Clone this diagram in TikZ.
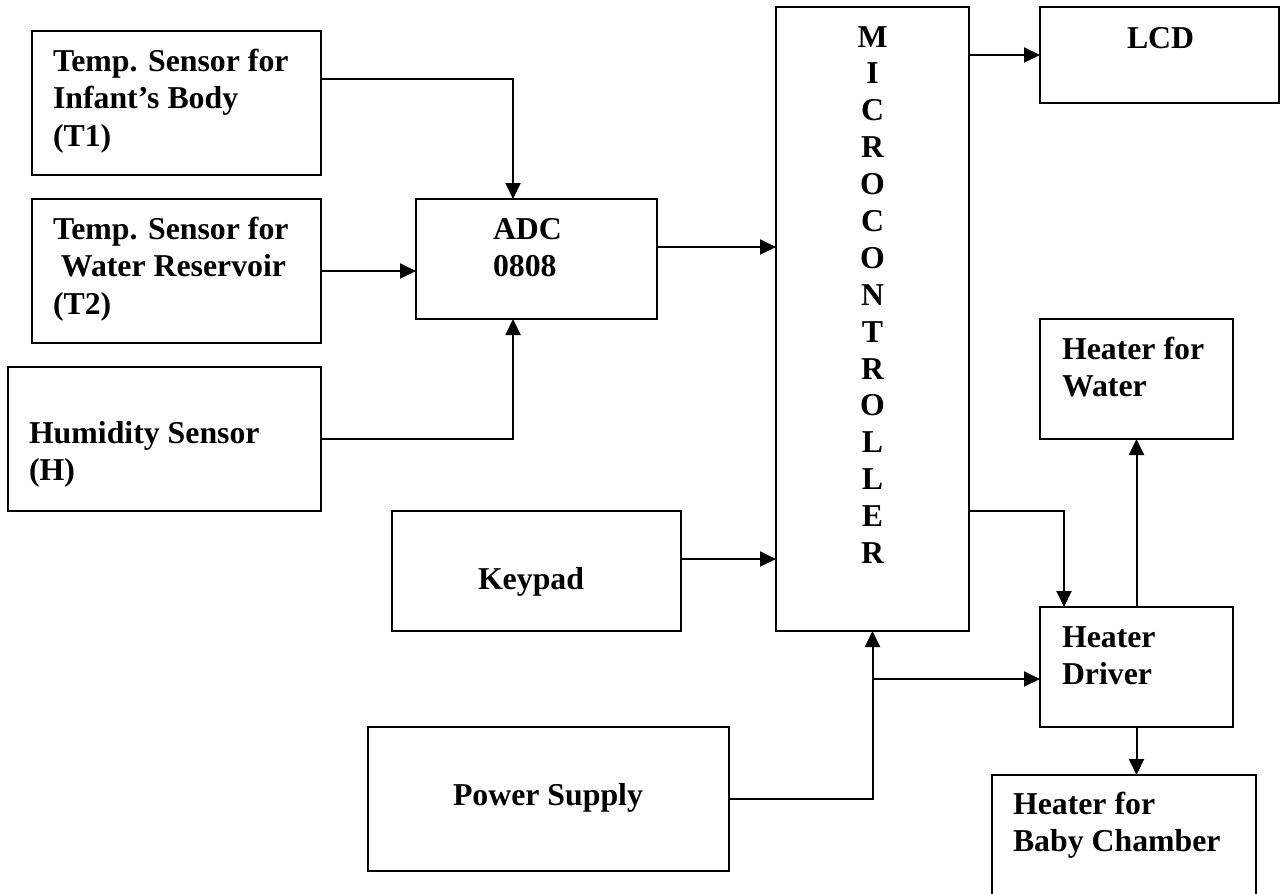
\documentclass[tikz,border=0pt]{standalone}
\usepackage{fontspec}
\setmainfont{Liberation Serif}
\usetikzlibrary{arrows.meta,calc}
\tikzset{
  blk/.style={draw, line width=2.1pt, inner sep=0pt, outer sep=0pt, anchor=north west},
  lbl/.style={anchor=base west, inner sep=0pt, outer sep=0pt, font=\bfseries\fontsize{31.8}{37.7}\selectfont},
  conn/.style={line width=2pt, -{Triangle[length=16pt,width=15pt]}},
}
\begin{document}
\begin{tikzpicture}[x=1pt,y=-1pt]
\useasboundingbox (0,0) rectangle (1283,894);
\clip (0,0) rectangle (1283,894);
% blocks
\node[blk, minimum width=289pt, minimum height=144pt] (T1) at (32,31) {};
\node[blk, minimum width=289pt, minimum height=144pt] (T2) at (32,199) {};
\node[blk, minimum width=313pt, minimum height=144pt] (Hum) at (8,367) {};
\node[blk, minimum width=241pt, minimum height=120pt] (ADC) at (416,199) {};
\node[blk, minimum width=289pt, minimum height=120pt] (Keypad) at (392,511) {};
\node[blk, minimum width=361pt, minimum height=144pt] (PS) at (368,727) {};
\node[blk, minimum width=193pt, minimum height=624pt] (Micro) at (776,7) {};
\node[blk, minimum width=239pt, minimum height=96pt] (LCD) at (1040,7) {};
\node[blk, minimum width=193pt, minimum height=120pt] (HW) at (1040,319) {};
\node[blk, minimum width=193pt, minimum height=120pt] (Driver) at (1040,607) {};
\node[blk, minimum width=264pt, minimum height=140pt] (Baby) at (992,775) {};
% texts
\node[lbl] (t1txt) at (53,71) {\begin{tabular}[t]{@{}l@{}}Temp. Sensor for\\Infant’s Body\\(T1)\end{tabular}};
\node[lbl] (t2txt) at (53,239) {\begin{tabular}[t]{@{}l@{}}Temp. Sensor for\\\ Water Reservoir\\(T2)\end{tabular}};
\node[lbl] (humtxt) at (29,443) {\begin{tabular}[t]{@{}l@{}}Humidity Sensor\\(H)\end{tabular}};
\node[lbl] (adctxt) at (493,239) {\begin{tabular}[t]{@{}l@{}}ADC\\0808\end{tabular}};
\node[lbl] (kptxt) at (478,589) {Keypad};
\node[lbl] (pstxt) at (453,805) {Power Supply};
\node[lbl] (lcdtxt) at (1127,48) {LCD};
\node[lbl] (hwtxt) at (1062,359) {\begin{tabular}[t]{@{}l@{}}Heater for\\Water\end{tabular}};
\node[lbl] (drvtxt) at (1062,647) {\begin{tabular}[t]{@{}l@{}}Heater\\Driver\end{tabular}};
\node[lbl] (babytxt) at (1013,814) {\begin{tabular}[t]{@{}l@{}}Heater for\\Baby Chamber\end{tabular}};
\node[lbl, anchor=base] (mtxt) at (872.5,47) {\fontsize{31.8}{36.9}\selectfont\begin{tabular}[t]{@{}c@{}}M\\I\\C\\R\\O\\C\\O\\N\\T\\R\\O\\L\\L\\E\\R\end{tabular}};
% connectors
\draw[conn] ($(T1.north east)+(0,48)$) -| ($(ADC.north west)+(97,0)$);
\draw[conn] (T2.east) -- (T2.east -| ADC.west);
\draw[conn] (Hum.east) -| ($(ADC.south west)+(97,0)$);
\coordinate (adcout) at ($(ADC.east)+(0,-12)$);
\draw[conn] (adcout) -- (adcout -| Micro.west);
\draw[conn] (LCD.west -| Micro.east) -- (LCD.west);
\coordinate (kpout) at ($(Keypad.east)+(0,-12)$);
\draw[conn] (kpout) -- (kpout -| Micro.west);
\coordinate (mcout) at ($(Micro.south east)+(0,-120)$);
\draw[conn] (mcout) -| ($(Driver.north west)+(24,0)$);
\draw[conn] (PS.east) -| (Micro.south);
\coordinate (junc) at ($(Micro.south)+(0,48)$);
\draw[conn] (junc) -- (junc -| Driver.west);
\draw[conn] (Driver.north) -- (HW.south);
\draw[conn] (Driver.south) -- (Driver.south |- Baby.north);
\end{tikzpicture}
\end{document}
